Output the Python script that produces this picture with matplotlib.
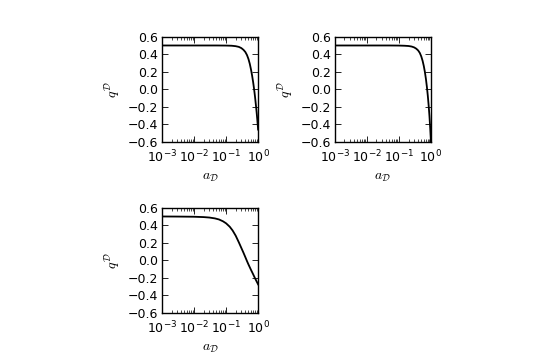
import matplotlib
matplotlib.use('Agg')
import matplotlib.pyplot as plt

a1 = [0.001, 0.01, 0.05, 0.1, 0.15, 0.2, 0.25, 0.3, 0.35, 0.4, 0.45, 0.5, 0.55,
      0.6, 0.65, 0.7, 0.75, 0.8, 0.85, 0.9, 0.95, 1.0]
q1 = [0.5, 0.5, 0.5, 0.499, 0.497, 0.492, 0.484, 0.47, 0.45, 0.425, 0.39, 0.345, 0.29,
      0.225, 0.155, 0.08, 0.0, -0.085, -0.175, -0.265, -0.36, -0.46]

a2 = [0.001, 0.01, 0.05, 0.1, 0.15, 0.2, 0.25, 0.3, 0.35, 0.4, 0.45, 0.5, 0.55,
      0.6, 0.65, 0.7, 0.75, 0.8, 0.85, 0.9, 0.95, 1.0]
q2 = [0.5, 0.5, 0.5, 0.499, 0.497, 0.494, 0.488, 0.478, 0.463, 0.443, 0.415, 0.375, 0.325,
      0.265, 0.195, 0.115, 0.025, -0.075, -0.185, -0.305, -0.445, -0.6]

a3 = [0.001, 0.003, 0.01, 0.02, 0.03, 0.045, 0.06, 0.08, 0.1, 0.13, 0.16, 0.2,
      0.25, 0.3, 0.35, 0.4, 0.45, 0.5, 0.6, 0.7, 0.8, 0.9, 1.0]
q3 = [0.5, 0.499, 0.497, 0.493, 0.488, 0.478, 0.466, 0.445, 0.422, 0.383, 0.34, 0.28,
      0.205, 0.14, 0.085, 0.035, -0.01, -0.048, -0.11, -0.16, -0.205, -0.242, -0.275]

plt.rcParams['mathtext.fontset'] = 'cm'
plt.rcParams['xtick.direction'] = 'in'
plt.rcParams['ytick.direction'] = 'in'
plt.rcParams['xtick.top'] = True
plt.rcParams['ytick.right'] = True
plt.rcParams['font.size'] = 9

fig = plt.figure(figsize=(5.4, 3.6), dpi=100)
boxes = [[0.300, 0.606, 0.178, 0.292],
         [0.620, 0.606, 0.178, 0.292],
         [0.300, 0.131, 0.178, 0.292]]
for box, a, q in zip(boxes, [a1, a2, a3], [q1, q2, q3]):
    ax = fig.add_axes(box)
    ax.plot(a, q, color='black', lw=1.3)
    ax.set_xscale('log')
    ax.set_xlim(1e-3, 1)
    ax.set_ylim(-0.6, 0.6)
    ax.set_yticks([-0.6, -0.4, -0.2, 0.0, 0.2, 0.4, 0.6])
    ax.set_xlabel(r'$a_{\mathcal{D}}$', fontsize=10, labelpad=3)
    ax.set_ylabel(r'$q^{\mathcal{D}}$', fontsize=10, labelpad=4)
    ax.tick_params(which='major', length=4, width=0.6)
    ax.tick_params(which='minor', length=2, width=0.5)
    ax.tick_params(axis='x', which='major', pad=5)
    ax.tick_params(axis='y', which='major', pad=3)
    for s in ax.spines.values():
        s.set_linewidth(1.0)

fig.savefig('out.png', dpi=100)
